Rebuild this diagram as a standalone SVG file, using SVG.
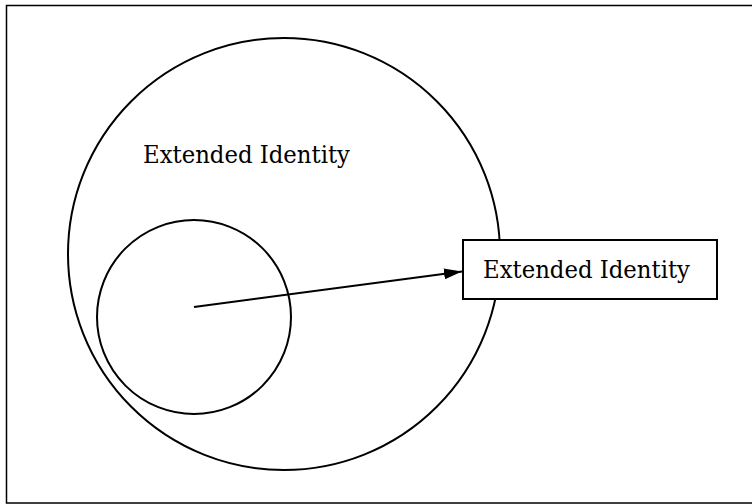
<svg xmlns="http://www.w3.org/2000/svg" width="752" height="504" viewBox="0 0 752 504">
  <style>
    .shape { fill: none; stroke: #000; stroke-width: 2; }
    .label { font-family: "DejaVu Serif", "Liberation Serif", serif; font-size: 25px; fill: #000; }
    .edge { fill: none; stroke: #000; stroke-width: 2; }
  </style>
  <defs>
    <marker id="arrowhead" viewBox="0 0 18 11" refX="18" refY="5.5" markerWidth="18" markerHeight="11" markerUnits="userSpaceOnUse" orient="auto">
      <path d="M0,0 L18,5.5 L0,11 Z" fill="#000"/>
    </marker>
  </defs>
  <rect width="752" height="504" fill="#fff"/>
  <!-- page frame -->
  <rect x="6.5" y="5.5" width="760" height="497.5" fill="none" stroke="#000" stroke-width="1.5"/>

  <g id="outer-identity">
    <circle class="shape" cx="284" cy="254" r="216"/>
    <text class="label" x="143" y="163" textLength="207" lengthAdjust="spacingAndGlyphs">Extended Identity</text>
  </g>

  <g id="inner-identity">
    <circle class="shape" cx="194" cy="317" r="97"/>
  </g>

  <g id="identity-box">
    <rect x="463" y="240" width="254" height="59" fill="#fff" stroke="#000" stroke-width="2"/>
    <text class="label" x="483" y="278" textLength="207" lengthAdjust="spacingAndGlyphs">Extended Identity</text>
  </g>

  <g id="connectors">
    <line class="edge" x1="194" y1="307" x2="462" y2="271.5" marker-end="url(#arrowhead)"/>
  </g>
</svg>
